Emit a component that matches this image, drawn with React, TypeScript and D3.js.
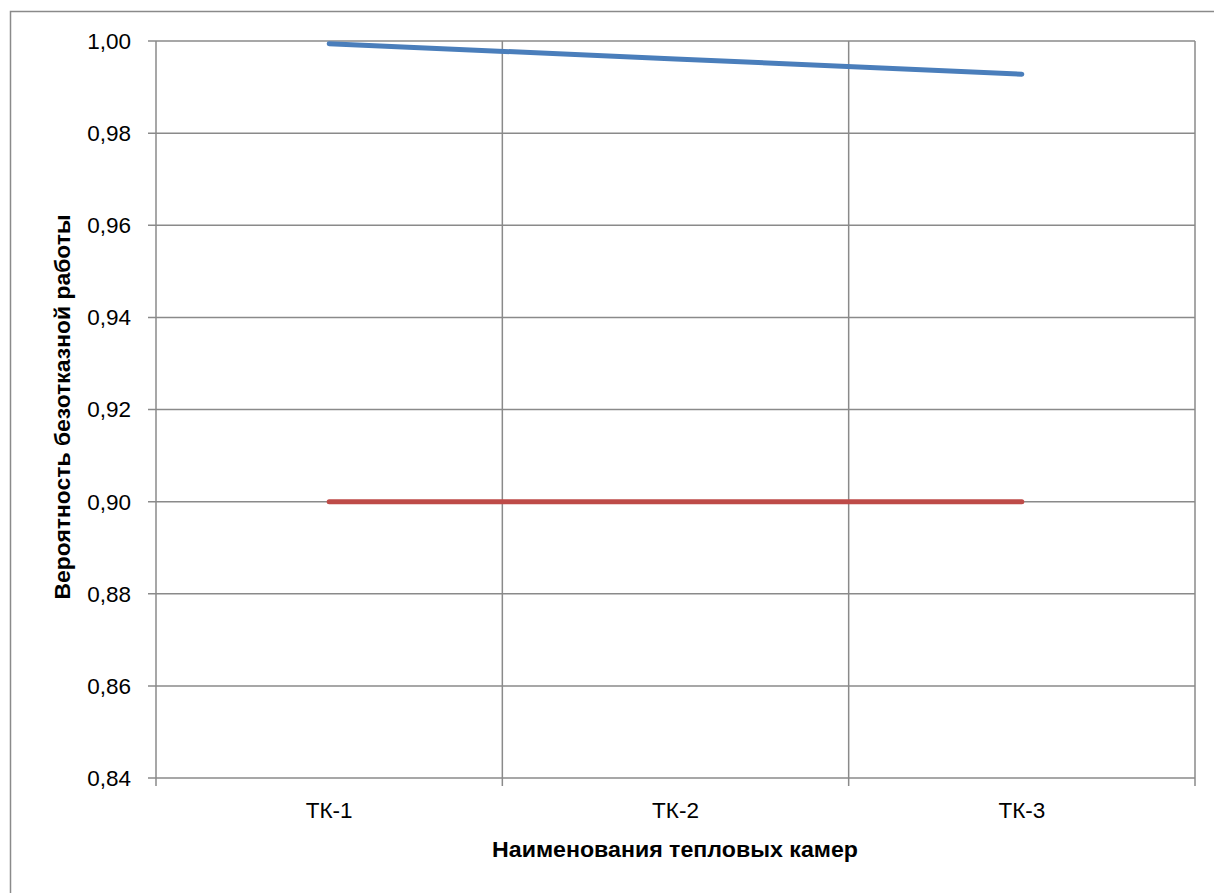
import React from "react";
import * as d3 from "d3";

const categories = ["ТК-1", "ТК-2", "ТК-3"];
const reliability = [0.9994, 0.9961, 0.9928];
const threshold = [0.9, 0.9, 0.9];
const yTicks = [0.84, 0.86, 0.88, 0.9, 0.92, 0.94, 0.96, 0.98, 1.0];
const yLabel = "Вероятность безотказной работы";
const xLabel = "Наименования тепловых камер";

const W = 1214;
const H = 893;
const left = 156;
const right = 1195;
const top = 41;
const bottom = 778;
const grid = "#8a8a8a";
const font = "'Liberation Sans', Arial, sans-serif";

export default function App() {
  const x = d3.scaleBand<string>().domain(categories).range([left, right]).padding(0);
  const y = d3.scaleLinear().domain([0.84, 1.0]).range([bottom, top]);
  const cx = (c: string) => (x(c) as number) + x.bandwidth() / 2;
  const line = d3
    .line<number>()
    .x((_, i) => cx(categories[i]))
    .y((d) => y(d));
  const boundaries = [...categories.map((c) => x(c) as number), right];
  const fmt = (v: number) => v.toFixed(2).replace(".", ",");

  return (
    <svg
      width={W}
      height={H}
      style={{ position: "absolute", left: 0, top: 0, display: "block", background: "#fff" }}
    >
      <rect x={10.5} y={11.5} width={1400} height={1100} fill="#fff" stroke={grid} strokeWidth={1.5} />
      {yTicks.map((t) => (
        <g key={t}>
          <line x1={left - 8} x2={right} y1={y(t)} y2={y(t)} stroke={grid} strokeWidth={1.5} />
          <text
            x={131}
            y={y(t)}
            dy="0.35em"
            textAnchor="end"
            fontFamily={font}
            fontSize={22.5}
            fill="#000"
          >
            {fmt(t)}
          </text>
        </g>
      ))}
      {boundaries.map((b, i) => (
        <line key={i} x1={b} x2={b} y1={top} y2={bottom + 8} stroke={grid} strokeWidth={1.5} />
      ))}
      {categories.map((c) => (
        <text
          key={c}
          x={cx(c)}
          y={818}
          textAnchor="middle"
          fontFamily={font}
          fontSize={22.5}
          fill="#000"
        >
          {c}
        </text>
      ))}
      <path d={line(threshold) || ""} fill="none" stroke="#BE4B48" strokeWidth={5} strokeLinecap="round" />
      <path d={line(reliability) || ""} fill="none" stroke="#4A7EBB" strokeWidth={5} strokeLinecap="round" />
      <text
        x={675}
        y={857}
        textAnchor="middle"
        fontFamily={font}
        fontSize={21.5}
        fontWeight="bold"
        fill="#000"
        textLength={366}
        lengthAdjust="spacingAndGlyphs"
      >
        {xLabel}
      </text>
      <text
        transform={`translate(70, 407) rotate(-90)`}
        textAnchor="middle"
        fontFamily={font}
        fontSize={21.5}
        fontWeight="bold"
        fill="#000"
        textLength={385}
        lengthAdjust="spacingAndGlyphs"
      >
        {yLabel}
      </text>
    </svg>
  );
}
